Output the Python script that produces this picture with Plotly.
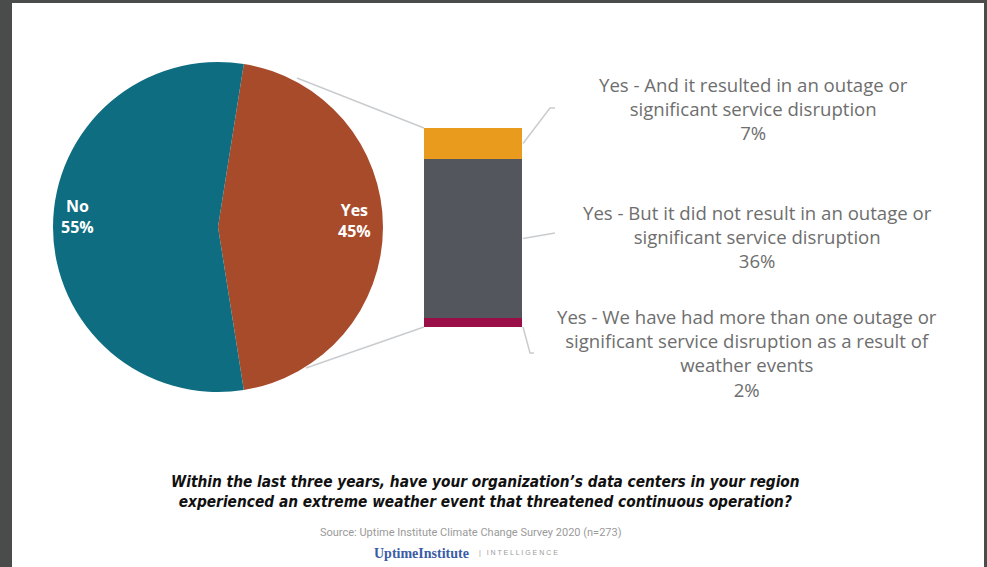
import plotly.graph_objects as go

W, H = 987, 567

# ---- data ----
pie_labels = ["Yes", "No"]
pie_values = [45, 55]
pie_colors = ["#A84B2B", "#0E6D80"]

bar_labels = [
    "Yes - We have had more than one outage or<br>significant service disruption as a result of<br>weather events",
    "Yes - But it did not result in an outage or<br>significant service disruption",
    "Yes - And it resulted in an outage or<br>significant service disruption",
]
bar_values = [2, 36, 7]
bar_colors = ["#9A0F48", "#53565C", "#E99B1D"]

title_text = ("Within the last three years, have your organization\u2019s data centers in your region<br>"
              "experienced an extreme weather event that threatened continuous operation?")
source_text = "Source: Uptime Institute Climate Change Survey 2020 (n=273)"

# ---- geometry helpers (pixels -> paper) ----
def px(x):
    return x / W

def py(y):
    return 1 - y / H

bar_left, bar_right, bar_top, bar_bot = 424, 522, 128, 327
total = sum(bar_values)

fig = go.Figure()

fig.add_trace(go.Pie(
    labels=pie_labels, values=pie_values, sort=False, direction="clockwise",
    rotation=9, marker=dict(colors=pie_colors, line=dict(width=0)),
    textinfo="none", hoverinfo="label+percent", showlegend=False,
    domain=dict(x=[px(53), px(383)], y=[py(392), py(62)]),
))

for lab, val, col in zip(bar_labels, bar_values, bar_colors):
    fig.add_trace(go.Bar(
        x=[0], y=[val], marker=dict(color=col, line=dict(width=0)), width=1,
        showlegend=False, hoverinfo="y", name=lab,
        xaxis="x", yaxis="y",
    ))

fig.update_layout(
    width=W, height=H, margin=dict(l=0, r=0, t=0, b=0),
    paper_bgcolor="#4a4c4c", plot_bgcolor="rgba(0,0,0,0)",
    barmode="stack", bargap=0,
    xaxis=dict(domain=[px(bar_left), px(bar_right)], range=[-0.5, 0.5], visible=False, fixedrange=True),
    yaxis=dict(domain=[py(bar_bot), py(bar_top)], range=[0, total], visible=False, fixedrange=True),
)

shapes = []
# white slide
shapes.append(dict(type="rect", xref="paper", yref="paper", layer="below",
                   x0=px(12), x1=px(984), y0=0, y1=py(3),
                   fillcolor="white", line=dict(width=0)))

line_style = dict(color="#C9CCCF", width=1.5)
# connectors from pie to bar
shapes.append(dict(type="line", xref="paper", yref="paper",
                   x0=px(297), y0=py(78), x1=px(bar_left), y1=py(bar_top), line=line_style))
shapes.append(dict(type="line", xref="paper", yref="paper",
                   x0=px(306), y0=py(368), x1=px(bar_left), y1=py(bar_bot), line=line_style))

# connectors from bar segments to labels
def seg_mid_px(i):
    lo = sum(bar_values[:i])
    mid = lo + bar_values[i] / 2
    return bar_top + (total - mid) / total * (bar_bot - bar_top)

ends = {2: (550, 108, 555), 1: (555, 233, 555), 0: (530, 353, 534)}
for i, (ex, ey, ex2) in ends.items():
    sy = seg_mid_px(i) if i != 0 else bar_bot
    shapes.append(dict(type="path", xref="paper", yref="paper",
                       path=f"M {px(bar_right+1)},{py(sy)} L {px(ex)},{py(ey)} L {px(ex2)},{py(ey)}",
                       line=line_style))
fig.update_layout(shapes=shapes)

ann = []

def add_text(x, y, text, font, xanchor="center", align="center"):
    ann.append(dict(x=px(x), y=py(y), xref="paper", yref="paper", showarrow=False,
                    text=text, align=align, xanchor=xanchor, yanchor="middle", font=font))

# pie labels
pie_lab_pos = {"No": (77, 216), "Yes": (354, 221)}
for lab, val in zip(pie_labels, pie_values):
    x, y = pie_lab_pos[lab]
    add_text(x, y, f"<b>{lab}<br>{val}%</b>", dict(family="Open Sans", size=16, color="white"))

# right labels
lab_pos = {2: (753, 108), 1: (757, 236), 0: (747, 353)}
for i, (lab, val) in enumerate(zip(bar_labels, bar_values)):
    x, y = lab_pos[i]
    add_text(x, y, f"{lab}<br>{val}%", dict(family="Open Sans", size=18.6, color="#6E6E6E"))

add_text(485, 492, f"<b><i>{title_text}</i></b>",
         dict(family="DejaVu Sans Condensed, Liberation Sans", size=15.3, color="#111111"))
add_text(471, 532, source_text, dict(family="Roboto", size=11, color="#9A9A9A"))
add_text(471, 553, "<b>UptimeInstitute</b>", dict(family="Liberation Serif", size=14, color="#3A5CA6"),
         xanchor="right")
add_text(477, 553, "|   I N T E L L I G E N C E", dict(family="Liberation Sans", size=7, color="#9A9A9A"),
         xanchor="left")
fig.update_layout(annotations=ann)

fig.write_html("out.html")
